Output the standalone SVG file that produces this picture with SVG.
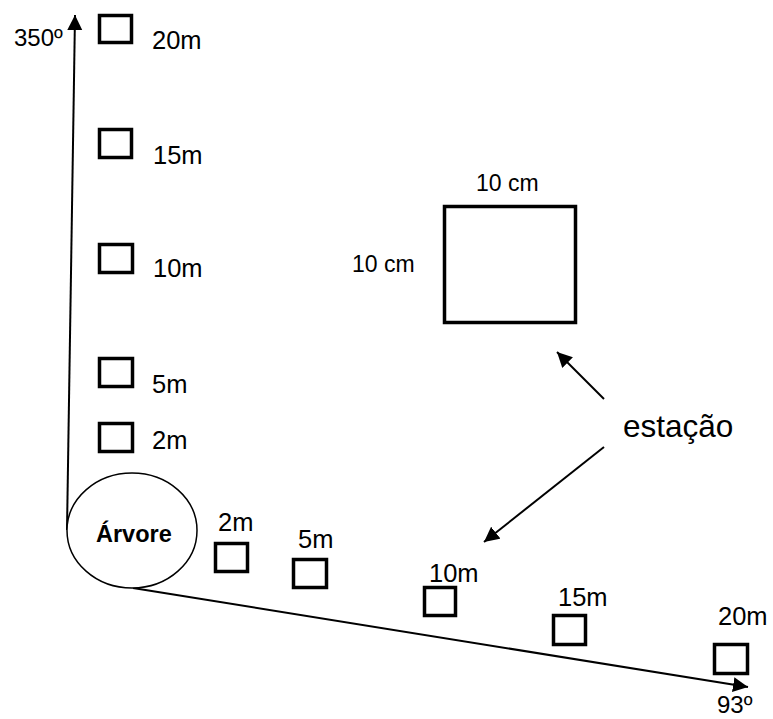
<svg xmlns="http://www.w3.org/2000/svg" width="773" height="719" viewBox="0 0 773 719">
<defs>
<style>
.sq{fill:none;stroke:#000;stroke-width:3.5}
.t{font-family:"Liberation Sans",Arial,sans-serif;font-size:25.5px;fill:#000}
.c{fill:none;stroke:#000;stroke-width:2}
</style>
<marker id="ah" markerUnits="userSpaceOnUse" markerWidth="16" markerHeight="16" viewBox="0 0 16 16" refX="15" refY="7.5" orient="auto">
<path d="M0,0 L15,7.5 L0,15 Z" fill="#000"/>
</marker>
</defs>
<rect width="773" height="719" fill="#fff"/>
<g id="connectors">
<line class="c" x1="67" y1="530" x2="75" y2="15" marker-end="url(#ah)"/>
<line class="c" x1="133" y1="588" x2="748" y2="687" marker-end="url(#ah)"/>
<line class="c" x1="604" y1="399" x2="557" y2="352" marker-end="url(#ah)"/>
<line class="c" x1="604" y1="447" x2="484" y2="542" marker-end="url(#ah)"/>
</g>
<g id="tree">
<ellipse cx="132" cy="530.5" rx="65" ry="57.5" fill="#fff" stroke="#000" stroke-width="1.5"/>
<text x="96" y="542" class="t" style="font-weight:bold;font-size:23.5px">Árvore</text>
</g>
<g id="n20">
<rect class="sq" x="99.5" y="15.5" width="32" height="27"/>
<text class="t" x="152" y="49">20m</text>
</g>
<g id="n15">
<rect class="sq" x="99.5" y="129.5" width="32" height="28"/>
<text class="t" x="153" y="164">15m</text>
</g>
<g id="n10">
<rect class="sq" x="99.5" y="244.5" width="33" height="28"/>
<text class="t" x="153" y="277">10m</text>
</g>
<g id="n5">
<rect class="sq" x="99.5" y="358.5" width="33" height="28"/>
<text class="t" x="152" y="393">5m</text>
</g>
<g id="n2">
<rect class="sq" x="99.5" y="423.5" width="33" height="28"/>
<text class="t" x="152" y="449">2m</text>
</g>
<g id="e2">
<rect class="sq" x="215.5" y="543.5" width="32" height="28"/>
<text class="t" x="218" y="531">2m</text>
</g>
<g id="e5">
<rect class="sq" x="293.5" y="559.5" width="33" height="28"/>
<text class="t" x="298" y="548">5m</text>
</g>
<g id="e10">
<rect class="sq" x="424.5" y="587.5" width="31" height="28"/>
<text class="t" x="429" y="582">10m</text>
</g>
<g id="e15">
<rect class="sq" x="553.5" y="615.5" width="32" height="29"/>
<text class="t" x="558" y="606">15m</text>
</g>
<g id="e20">
<rect class="sq" x="714.5" y="644.5" width="33" height="29"/>
<text class="t" x="718" y="625">20m</text>
</g>
<g id="station">
<rect class="sq" x="444.5" y="206.5" width="131" height="116"/>
<text class="t" x="476" y="191" style="font-size:23px">10 cm</text>
<text class="t" x="352" y="272" style="font-size:23px">10 cm</text>
</g>
<g id="labels">
<text class="t" x="623" y="437" style="font-size:31.5px">estação</text>
<text class="t" x="14" y="46" style="font-size:24px">350º</text>
<text class="t" x="717" y="713" style="font-size:24px">93º</text>
</g>
</svg>
